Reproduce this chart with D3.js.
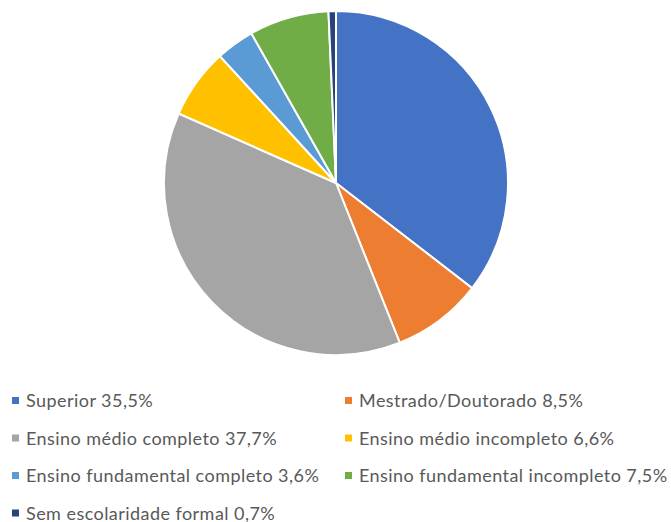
<!DOCTYPE html>
<html>
<head>
<meta charset="utf-8">
<script src="https://cdn.jsdelivr.net/npm/d3@7"></script>
<style>
body { margin: 0; background: #fff; }
text { font-family: Lato, "Open Sans", sans-serif; fill: #595959; }
</style>
</head>
<body>
<script>
var labels = ['Superior', 'Mestrado/Doutorado', 'Ensino médio completo', 'Ensino médio incompleto',
  'Ensino fundamental completo', 'Ensino fundamental incompleto', 'Sem escolaridade formal'];
var values = [35.5, 8.5, 37.7, 6.6, 3.6, 7.5, 0.7];
var valueLabels = ['35,5%', '8,5%', '37,7%', '6,6%', '3,6%', '7,5%', '0,7%'];
var colors = ['#4472C4', '#ED7D31', '#A5A5A5', '#FFC000', '#5B9BD5', '#70AD47', '#264478'];

var svg = d3.select('body').append('svg')
  .attr('width', 671).attr('height', 522);

var data = labels.map(function(l, i){
  return {label: l, value: values[i], text: valueLabels[i], color: colors[i]};
});

var pie = d3.pie().sort(null).value(function(d){ return d.value; });
var arc = d3.arc().innerRadius(0).outerRadius(172);

var g = svg.append('g').attr('transform', 'translate(336,183)');
g.selectAll('path')
  .data(pie(data))
  .enter().append('path')
  .attr('d', arc)
  .attr('fill', function(d){ return d.data.color; })
  .attr('stroke', '#fff')
  .attr('stroke-width', 2);

// legend, two columns
var legend = svg.append('g');
var item = legend.selectAll('g')
  .data(data)
  .enter().append('g')
  .attr('transform', function(d, i){
    var col = i % 2, row = Math.floor(i / 2);
    return 'translate(' + (col ? 345 : 12) + ',' + (401 + row * 37.5) + ')';
  });
item.append('rect')
  .attr('x', 0).attr('y', -4).attr('width', 7).attr('height', 7)
  .attr('fill', function(d){ return d.color; });
item.append('text')
  .attr('x', 14).attr('y', 6)
  .style('font-size', '18px')
  .style('letter-spacing', '0.45px')
  .text(function(d){ return d.label + ' ' + d.text; });
</script>
</body>
</html>
